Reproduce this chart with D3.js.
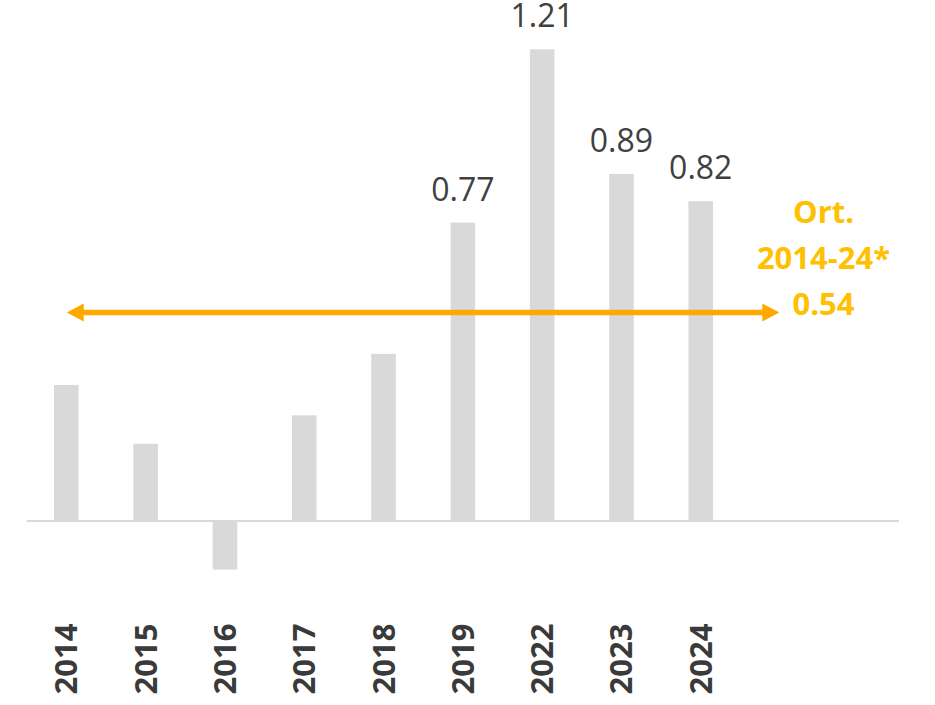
<!DOCTYPE html>
<html>
<head>
<meta charset="utf-8">
<script src="https://cdn.jsdelivr.net/npm/d3@7"></script>
<style>
  html, body { margin: 0; padding: 0; background: #fff; }
  svg { display: block; }
</style>
</head>
<body>
<svg id="chart" width="935" height="705"></svg>
<script>
// ---- data ----
const categories = ["2014", "2015", "2016", "2017", "2018", "2019", "2022", "2023", "2024"];
const values = [0.348, 0.197, -0.126, 0.27, 0.428, 0.765, 1.21, 0.89, 0.82];
const valueLabels = ["", "", "", "", "", "0.77", "1.21", "0.89", "0.82"];
const emptySlots = ["_a", "_b"];
const avgValue = 0.534;
const avgLabelLines = ["Ort.", "2014-24*", "0.54"];

// ---- layout ----
const W = 935, H = 705;
const svg = d3.select("#chart");

const x = d3.scaleBand()
  .domain(categories.concat(emptySlots))
  .range([26.7, 899])
  .paddingInner(0.69)
  .paddingOuter(0.345);

const y = d3.scaleLinear()
  .domain([0, 1.21])
  .range([520.5, 49.3]);

const barColor = "#d9d9d9";
const textColor = "#404040";
const avgTextColor = "#ffc000";
const arrowColor = "#ffa800";

// bars
svg.append("g").selectAll("rect")
  .data(categories.map((c, i) => ({ c, v: values[i] })))
  .join("rect")
  .attr("x", d => x(d.c))
  .attr("width", x.bandwidth())
  .attr("y", d => y(Math.max(0, d.v)))
  .attr("height", d => Math.abs(y(d.v) - y(0)))
  .attr("fill", barColor);

// zero axis line
svg.append("line")
  .attr("x1", x.range()[0]).attr("x2", x.range()[1])
  .attr("y1", y(0) + 0.5).attr("y2", y(0) + 0.5)
  .attr("stroke", barColor).attr("stroke-width", 2);

// value labels
svg.append("g").selectAll("text")
  .data(categories.map((c, i) => ({ c, v: values[i], t: valueLabels[i] })).filter(d => d.t))
  .join("text")
  .attr("x", d => x(d.c) + x.bandwidth() / 2)
  .attr("y", d => y(d.v) - 22)
  .attr("text-anchor", "middle")
  .attr("font-family", "'Open Sans', sans-serif")
  .attr("font-size", 32)
  .attr("fill", textColor)
  .text(d => d.t);

// category labels (rotated)
svg.append("g").selectAll("text")
  .data(categories)
  .join("text")
  .attr("transform", d => `translate(${x(d) + x.bandwidth() / 2 + 11},659) rotate(-90)`)
  .attr("text-anchor", "middle")
  .attr("font-family", "'Open Sans', sans-serif")
  .attr("font-weight", 700)
  .attr("font-size", 31)
  .attr("fill", "#3a3a3a")
  .text(d => d);

// average double arrow
const ay = y(avgValue);
const ax1 = x(categories[0]) + x.bandwidth() / 2 + 0.4;
const ax2 = x(categories[categories.length - 1]) + x.bandwidth() / 2 + 78.6;
const headL = 17, headH = 9;
svg.append("line")
  .attr("x1", ax1 + headL - 2).attr("x2", ax2 - headL + 2)
  .attr("y1", ay).attr("y2", ay)
  .attr("stroke", arrowColor).attr("stroke-width", 5.5);
svg.append("path")
  .attr("d", `M${ax1},${ay} L${ax1 + headL},${ay - headH} L${ax1 + headL},${ay + headH} Z`)
  .attr("fill", arrowColor);
svg.append("path")
  .attr("d", `M${ax2},${ay} L${ax2 - headL},${ay - headH} L${ax2 - headL},${ay + headH} Z`)
  .attr("fill", arrowColor);

// average label
svg.append("g").selectAll("text")
  .data(avgLabelLines)
  .join("text")
  .attr("x", 823.5)
  .attr("y", (d, i) => 223 + i * 46)
  .attr("text-anchor", "middle")
  .attr("font-family", "'Open Sans', sans-serif")
  .attr("font-weight", 700)
  .attr("font-size", 31)
  .attr("fill", avgTextColor)
  .text(d => d);
</script>
</body>
</html>
